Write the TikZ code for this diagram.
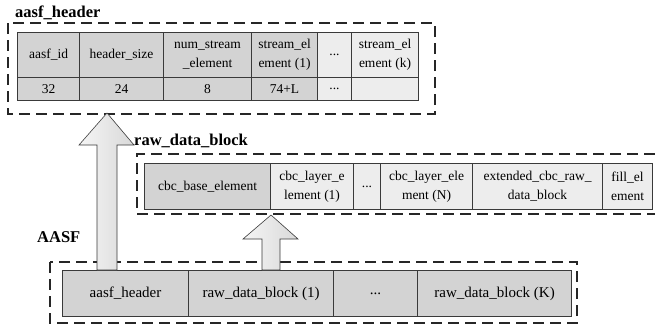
\documentclass[tikz,border=0pt]{standalone}
\usepackage{fontspec}
\setmainfont{Liberation Serif}
\usetikzlibrary{calc}
\definecolor{cellgray}{HTML}{D3D3D3}
\definecolor{celllight}{HTML}{EDEDED}
\definecolor{edgegray}{HTML}{3A3A3A}
\tikzset{
  cellbase/.style={draw=edgegray, line width=1.1pt, anchor=north west, inner sep=1pt, align=center, font=\fontsize{13.5}{19}\selectfont},
  cg/.style={cellbase, fill=cellgray},
  cl/.style={cellbase, fill=celllight},
  cb/.style={cellbase, fill=cellgray, font=\fontsize{15}{19}\selectfont},
  dbox/.style={draw=black!85, line width=1.7pt, dash pattern=on 11pt off 6pt},
  blabel/.style={font=\bfseries\fontsize{16.5}{20}\selectfont, anchor=west, inner sep=0pt},
  blockarrow/.style={draw=edgegray, line width=0.6pt, left color=gray!8, right color=gray!30}
}
\begin{document}
\begin{tikzpicture}[x=1pt,y=-1pt]
\useasboundingbox (0,0) rectangle (655,325);

% ---------- aasf_header box ----------
\draw[dbox] (8,23) rectangle (435,114);
\node[blabel] (lhdr) at (15,13) {aasf\_header};

\node[cg, minimum width=62pt, minimum height=45pt] (t11) at (17,32) {aasf\_id};
\node[cg, minimum width=84pt, minimum height=45pt] (t12) at (79,32) {header\_size};
\node[cg, minimum width=88pt, minimum height=45pt] (t13) at (163,32) {num\_stream\\\_element};
\node[cg, minimum width=66pt, minimum height=45pt] (t14) at (251,32) {stream\_el\\ement (1)};
\node[cl, minimum width=34pt, minimum height=45pt] (t15) at (317,32) {...};
\node[cl, minimum width=67pt, minimum height=45pt] (t16) at (351,32) {stream\_el\\ement (k)};

\node[cg, minimum width=62pt, minimum height=23pt] (t21) at (17,77) {32};
\node[cg, minimum width=84pt, minimum height=23pt] (t22) at (79,77) {24};
\node[cg, minimum width=88pt, minimum height=23pt] (t23) at (163,77) {8};
\node[cg, minimum width=66pt, minimum height=23pt] (t24) at (251,77) {74+L};
\node[cl, minimum width=34pt, minimum height=23pt] (t25) at (317,77) {...};
\node[cl, minimum width=67pt, minimum height=23pt] (t26) at (351,77) {};

% ---------- raw_data_block box ----------
\draw[dbox] (655,154) -- (137,154) -- (137,214) -- (655,214);
\node[blabel] (lrdb) at (134,141) {raw\_data\_block};

\node[cg, minimum width=126pt, minimum height=46pt] (m1) at (144,163) {cbc\_base\_element};
\node[cl, minimum width=83pt, minimum height=46pt] (m2) at (270,163) {cbc\_layer\_e\\lement (1)};
\node[cl, minimum width=27pt, minimum height=46pt] (m3) at (353,163) {...};
\node[cl, minimum width=92pt, minimum height=46pt] (m4) at (380,163) {cbc\_layer\_ele\\ment (N)};
\node[cl, minimum width=130pt, minimum height=46pt] (m5) at (472,163) {extended\_cbc\_raw\_\\data\_block};
\node[cl, minimum width=50pt, minimum height=46pt] (m6) at (602,163) {fill\_el\\ement};

% ---------- AASF box ----------
\draw[dbox] (50,262) rectangle (577,323);
\node[blabel] (laasf) at (37,237) {AASF};

\node[cb, minimum width=126pt, minimum height=46pt] (b1) at (62,270) {aasf\_header};
\node[cb, minimum width=145pt, minimum height=46pt] (b2) at (188,270) {raw\_data\_block (1)};
\node[cb, minimum width=84pt, minimum height=46pt] (b3) at (333,270) {...};
\node[cb, minimum width=154pt, minimum height=46pt] (b4) at (417,270) {raw\_data\_block (K)};

% ---------- block arrows ----------
\coordinate (a1s) at (b1.north west -| 107,0);
\coordinate (a1t) at (107,113);
\shade[blockarrow] ($(a1s)+(-10,0)$) -- ($(a1s)+(10,0)$) -- ($(a1t)+(10,32)$) -- ($(a1t)+(27,32)$) -- (a1t) -- ($(a1t)+(-28,32)$) -- ($(a1t)+(-10,32)$) -- cycle;

\coordinate (a2s) at (b2.north west -| 271,0);
\coordinate (a2t) at (271,215);
\shade[blockarrow] ($(a2s)+(-9,0)$) -- ($(a2s)+(9,0)$) -- ($(a2t)+(9,24)$) -- ($(a2t)+(27,24)$) -- (a2t) -- ($(a2t)+(-28,24)$) -- ($(a2t)+(-9,24)$) -- cycle;
\end{tikzpicture}
\end{document}
